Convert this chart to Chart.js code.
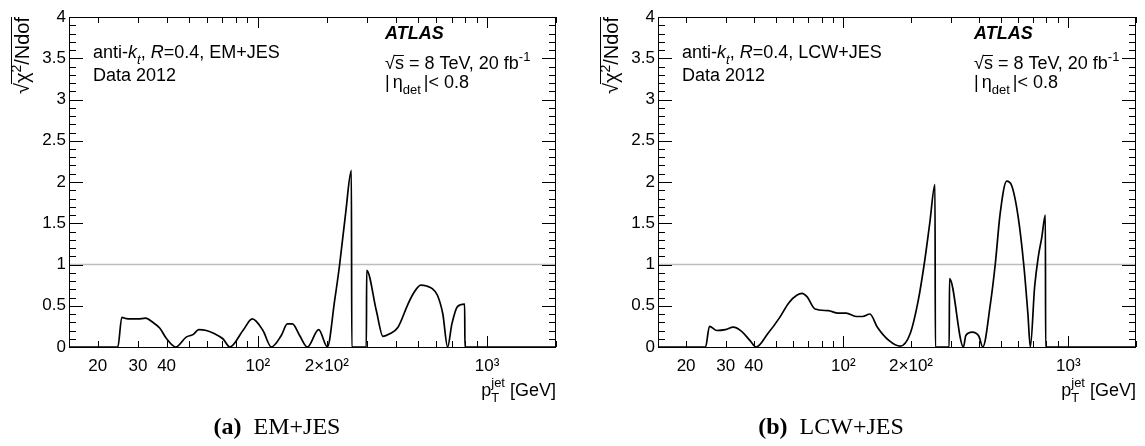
<!DOCTYPE html>
<html>
<head>
<meta charset="utf-8">
<script src="https://cdn.jsdelivr.net/npm/chart.js@4.4.1/dist/chart.umd.min.js"></script>
<style>
  body { margin: 0; background: #fff; }
  #page { position: relative; width: 1145px; height: 446px; overflow: hidden; background: #fff; }
  canvas { position: absolute; top: 0; }
  .caption { position: absolute; top: 413px; transform: translateX(-50%); white-space: nowrap;
             font-family: "Liberation Serif", "Times New Roman", serif; font-size: 24px; color: #000; }
</style>
</head>
<body>
<div id="page">
  <canvas id="chartEM" width="575" height="446" style="left:0"></canvas>
  <canvas id="chartLCW" width="570" height="446" style="left:575px"></canvas>
  <div class="caption" style="left:277px"><b>(a)</b>&nbsp; EM+JES</div>
  <div class="caption" style="left:831px"><b>(b)</b>&nbsp; LCW+JES</div>
</div>
<script>
// axis ranges and ticks
const xMin = 15, xMax = 2000;
const yMin = 0, yMax = 4;
const xTickValues = [20, 30, 40, 50, 60, 70, 80, 90, 100, 200, 300, 400, 500, 600, 700, 800, 900, 1000, 2000];
const xMajorTicks = [100, 1000];
const xTickLabels = {20: "20", 30: "30", 40: "40", 100: "10²", 200: "2×10²", 1000: "10³"};
const refLevel = 1;

// EM+JES : pT [GeV] and sqrt(chi2/Ndof)
const ptEM = [15, 24.5, 25.5, 26.7, 30.0, 32.4, 34.8, 37.3, 40.0, 43.8, 48.7, 52.1, 55.3, 59.6, 64.8, 70.4, 75.5,
  86.1, 94.6, 105.3, 114.5, 126.6, 134.5, 141.5, 152.2, 164.5, 184.3, 201.1, 216.4, 227.5, 241.6, 256, 257,
  297.5, 298.5, 329, 351.6, 376.1, 408.9, 452.1, 480, 514, 545, 574.8, 607, 641.5, 673, 702.8, 742.8, 799, 801, 2000];
const chiEM = [0, 0, 0.36, 0.345, 0.34, 0.35, 0.30, 0.23, 0.10, 0, 0.12, 0.15, 0.21, 0.20, 0.16, 0.10, 0,
  0.20, 0.34, 0.20, 0, 0.14, 0.28, 0.28, 0.14, 0, 0.21, 0, 0.565, 1.0, 1.62, 2.14, 0,
  0, 0.93, 0.44, 0.13, 0.16, 0.24, 0.52, 0.66, 0.75, 0.74, 0.71, 0.63, 0.40, 0, 0.28, 0.49, 0.52, 0, 0];

// LCW+JES
const ptLCW = [15, 24.4, 25.4, 27.4, 29.9, 32.4, 35.3, 38.4, 41.0, 46.1, 51.9, 57.4, 62.3, 65.5, 68.9, 74.9,
  85.7, 94.8, 103, 113.9, 121.9, 131.2, 141.7, 159.3, 179.1, 198.1, 215.3, 228.7, 242.2, 255.5, 256.5,
  295.5, 296.5, 342, 350.3, 374.3, 400.4, 416.8, 450.4, 473.4, 498, 532, 559.4, 598.4, 633.8, 661.5, 678,
  708.6, 735.3, 762.5, 791, 793, 2000];
const chiLCW = [0, 0, 0.25, 0.20, 0.21, 0.24, 0.19, 0.08, 0, 0.16, 0.35, 0.54, 0.63, 0.65, 0.61, 0.46,
  0.44, 0.41, 0.41, 0.37, 0.37, 0.40, 0.24, 0.08, 0.01, 0.16, 0.565, 1.0, 1.50, 1.97, 0,
  0, 0.83, 0, 0.14, 0.18, 0.13, 0, 0.52, 1.0, 1.62, 2.01, 1.96, 1.58, 1.0, 0.40, 0,
  0.73, 1.09, 1.33, 1.60, 0, 0];

var SANS = '"Liberation Sans", Arial, Helvetica, sans-serif';

function fontFor(p, size) {
    var s = (p.sub || p.sup) ? Math.round(size * 0.7) : size;
    return (p.i ? "italic " : "") + (p.b ? "bold " : "") + s + "px " + SANS;
}

function partWidth(ctx, p, size) {
    ctx.font = fontFor(p, size);
    var w = ctx.measureText(p.t).width;
    if (p.up) { // superscript stacked over a subscript
        ctx.font = fontFor({sup: 1}, size);
        w = Math.max(w, ctx.measureText(p.up).width);
    }
    return w + (p.gap || 0);
}

// draws a run of text pieces (italic, sub, sup, overline) on one baseline
function drawRich(ctx, x, y, parts, size, align) {
    var total = 0;
    parts.forEach(function(p) { total += partWidth(ctx, p, size); });
    var cx = align === "right" ? x - total : x;
    ctx.textAlign = "left";
    ctx.textBaseline = "alphabetic";
    ctx.fillStyle = "#000";
    ctx.strokeStyle = "#000";
    parts.forEach(function(p) {
        var w = partWidth(ctx, p, size);
        var dy = p.sub ? size * 0.32 : (p.sup ? -size * 0.42 : 0);
        ctx.font = fontFor(p, size);
        ctx.fillText(p.t, cx, y + dy);
        if (p.up) {
            ctx.font = fontFor({sup: 1}, size);
            ctx.fillText(p.up, cx, y - size * 0.48);
        }
        if (p.over) {
            ctx.beginPath();
            ctx.lineWidth = 1;
            ctx.moveTo(cx - 1, Math.round(y - size * p.over) + 0.5);
            ctx.lineTo(cx + w, Math.round(y - size * p.over) + 0.5);
            ctx.stroke();
        }
        cx += w;
    });
    return total;
}

// frame with inward ROOT-style ticks
const frameTicks = {
    id: "frameTicks",
    afterDatasetsDraw(chart) {
        var ctx = chart.ctx, a = chart.chartArea, x = chart.scales.x, y = chart.scales.y;
        ctx.save();
        ctx.strokeStyle = "#000";
        ctx.lineWidth = 1;
        ctx.beginPath();
        for (var i = 0; i <= 40; i++) {
            var py = Math.round(y.getPixelForValue(i / 10)) + 0.5;
            var len = i % 5 === 0 ? 14 : 7;
            ctx.moveTo(a.left, py); ctx.lineTo(a.left + len, py);
            ctx.moveTo(a.right, py); ctx.lineTo(a.right - len, py);
        }
        xTickValues.forEach(function(v) {
            var px = Math.round(x.getPixelForValue(v)) + 0.5;
            var len = xMajorTicks.indexOf(v) >= 0 ? 11 : 6;
            ctx.moveTo(px, a.bottom); ctx.lineTo(px, a.bottom - len);
            ctx.moveTo(px, a.top); ctx.lineTo(px, a.top + len);
        });
        ctx.stroke();
        ctx.strokeRect(Math.round(a.left) + 0.5, Math.round(a.top) + 0.5,
                       Math.round(a.right - a.left) - 1, Math.round(a.bottom - a.top));
        ctx.restore();
    }
};

function textPlugin(method) {
    return {
        id: "labels",
        afterDraw(chart) {
            var ctx = chart.ctx, a = chart.chartArea;
            ctx.save();
            drawRich(ctx, a.left + 24, a.top + 41, [
                {t: "anti-"}, {t: "k", i: 1}, {t: "t", i: 1, sub: 1}, {t: ", "}, {t: "R", i: 1}, {t: "=0.4, " + method}
            ], 18);
            drawRich(ctx, a.left + 24, a.top + 64, [{t: "Data 2012"}], 18);
            drawRich(ctx, a.left + 316, a.top + 22, [{t: "ATLAS", b: 1, i: 1}], 18);
            drawRich(ctx, a.left + 316, a.top + 52, [
                {t: "√"}, {t: "s", over: 0.8}, {t: " = 8 TeV, 20 fb"}, {t: "-1", sup: 1}
            ], 18);
            drawRich(ctx, a.left + 316, a.top + 71, [
                {t: "|", gap: 3}, {t: "η"}, {t: "det", sub: 1, gap: 3}, {t: "|< 0.8"}
            ], 18);

            // x axis title
            drawRich(ctx, a.right, 396, [{t: "p"}, {t: "T", sub: 1, up: "jet"}, {t: " [GeV]"}], 18, "right");

            // y axis title, rotated, aligned to the top of the axis
            ctx.translate(a.left - 40, a.top);
            ctx.rotate(-Math.PI / 2);
            drawRich(ctx, 0, 0, [
                {t: "√"}, {t: "χ", over: 0.92}, {t: "2", sup: 1, over: 0.92}, {t: "/Ndof", over: 0.92}
            ], 20, "right");
            ctx.restore();
        }
    };
}

function buildChart(id, pt, chi, cfg) {
    var points = pt.map(function(p, i) { return {x: p, y: chi[i]}; });
    return new Chart(document.getElementById(id), {
        type: "line",
        data: {
            datasets: [{
                data: points,
                borderColor: "#000",
                borderWidth: 1.7,
                pointRadius: 0,
                cubicInterpolationMode: "monotone",
                clip: false,
                order: 1
            }, {
                data: [{x: xMin, y: refLevel}, {x: xMax, y: refLevel}],
                borderColor: "#bdbdbd",
                borderWidth: 1.5,
                pointRadius: 0,
                order: 2
            }]
        },
        options: {
            responsive: false,
            animation: false,
            events: [],
            layout: {padding: {left: 0, right: cfg.padRight, top: 17, bottom: 0}},
            plugins: {legend: {display: false}, tooltip: {enabled: false}},
            scales: {
                x: {
                    type: "logarithmic",
                    min: xMin,
                    max: xMax,
                    afterBuildTicks: function(scale) {
                        scale.ticks = xTickValues.map(function(v) { return {value: v}; });
                    },
                    afterFit: function(scale) { scale.height = 99; },
                    grid: {display: false, drawTicks: false},
                    border: {display: false},
                    ticks: {
                        autoSkip: false,
                        maxRotation: 0,
                        padding: 9,
                        color: "#000",
                        font: {family: SANS, size: 17},
                        callback: function(v) { return xTickLabels[v] || ""; }
                    }
                },
                y: {
                    min: yMin,
                    max: yMax,
                    afterFit: function(scale) { scale.width = cfg.axisWidth; },
                    grid: {display: false, drawTicks: false},
                    border: {display: false},
                    ticks: {
                        stepSize: 0.5,
                        padding: 3,
                        color: "#000",
                        font: {family: SANS, size: 17},
                        callback: function(v) { return String(v); }
                    }
                }
            }
        },
        plugins: [frameTicks, textPlugin(cfg.method)]
    });
}

document.addEventListener("DOMContentLoaded", function() {
    buildChart("chartEM", ptEM, chiEM, {axisWidth: 69, padRight: 19, method: "EM+JES"});
    buildChart("chartLCW", ptLCW, chiLCW, {axisWidth: 83, padRight: 3, method: "LCW+JES"});
});
</script>
</body>
</html>
